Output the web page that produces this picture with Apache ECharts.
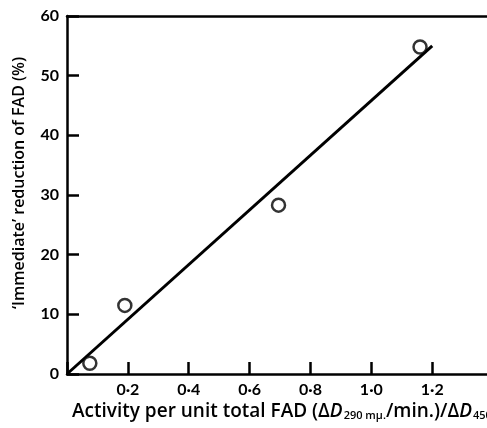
<!DOCTYPE html>
<html>
<head>
<meta charset="utf-8">
<script src="https://cdn.jsdelivr.net/npm/echarts@6/dist/echarts.min.js"></script>
<style>
  html, body { margin: 0; padding: 0; background: #fff; }
  #chart { width: 487px; height: 428px; }
</style>
</head>
<body>
<div id="chart"></div>
<script>
// measured points (activity, % reduction)
var activity = [0.075, 0.19, 0.695, 1.16];
var reduction = [1.8, 11.5, 28.3, 54.8];
// fitted line ends
var fitX = [0, 1.2];
var fitY = [0, 55];
var yTicks = [0, 10, 20, 30, 40, 50, 60];

var points = activity.map(function (x, i) { return [x, reduction[i]]; });
var fit = fitX.map(function (x, i) { return [x, fitY[i]]; });

var font = 'Lato, "Open Sans", sans-serif';
var titleFont = '"Open Sans", Lato, sans-serif';
var myChart = echarts.init(document.getElementById('chart'));

var option = {
    animation: false,
    backgroundColor: '#fff',
    grid: { left: 67, right: 0, top: 16, bottom: 54 },
    xAxis: [{
        type: 'value',
        min: 0,
        max: 1.38,
        interval: 0.2,
        axisLine: { lineStyle: { color: '#000', width: 2.5 } },
        axisTick: { inside: true, length: 12, lineStyle: { color: '#000', width: 2.5 } },
        splitLine: { show: false },
        axisLabel: {
            margin: 8,
            color: '#000',
            fontFamily: font,
            fontWeight: 'bold',
            fontSize: 16,
            showMaxLabel: false,
            formatter: function (v) {
                if (v === 0 || Math.abs(v * 5 - Math.round(v * 5)) > 1e-6) return '';
                return v.toFixed(1).replace('.', '\u00b7');
            }
        }
    }, {
        type: 'value',
        position: 'top',
        min: 0,
        max: 1.38,
        axisLine: { show: true, lineStyle: { color: '#000', width: 2.5 } },
        axisTick: { show: false },
        axisLabel: { show: false },
        splitLine: { show: false }
    }],
    yAxis: {
        type: 'value',
        min: 0,
        max: 60,
        interval: 10,
        axisLine: { show: true, lineStyle: { color: '#000', width: 2.5 } },
        axisTick: { show: true, inside: true, length: 12, lineStyle: { color: '#000', width: 2.5 } },
        splitLine: { show: false },
        axisLabel: {
            margin: 8,
            color: '#000',
            fontFamily: font,
            fontWeight: 'bold',
            fontSize: 16,
            formatter: function (v) { return yTicks.indexOf(v) >= 0 ? String(v) : ''; }
        }
    },
    graphic: [{
        type: 'text',
        x: 19,
        y: 183,
        rotation: Math.PI / 2,
        style: {
            text: '\u2018Immediate\u2019 reduction of FAD (%)',
            fill: '#000',
            font: '600 16px ' + titleFont,
            align: 'center',
            verticalAlign: 'middle'
        }
    }, {
        type: 'text',
        left: 72,
        top: 402,
        style: {
            text: 'Activity per unit total FAD (\u0394{it|D}{sub|290 m\u03bc.}/min.)/\u0394{it|D}{sub|450 m\u03bc}',
            fill: '#000',
            font: '600 19px ' + titleFont,
            rich: {
                it: { fontStyle: 'italic', fontWeight: 600, fontSize: 19, fontFamily: titleFont, fill: '#000' },
                sub: { fontSize: 11, fontWeight: 600, fontFamily: titleFont, fill: '#000', padding: [9, 0, 0, 1] }
            }
        }
    }],
    series: [{
        type: 'line',
        data: fit,
        symbol: 'none',
        lineStyle: { color: '#000', width: 3 },
        z: 2
    }, {
        type: 'scatter',
        data: points,
        symbol: 'circle',
        symbolSize: 13,
        itemStyle: { color: '#fff', borderColor: '#000', borderWidth: 2.5 },
        z: 3
    }]
};
myChart.setOption(option);
</script>
</body>
</html>
